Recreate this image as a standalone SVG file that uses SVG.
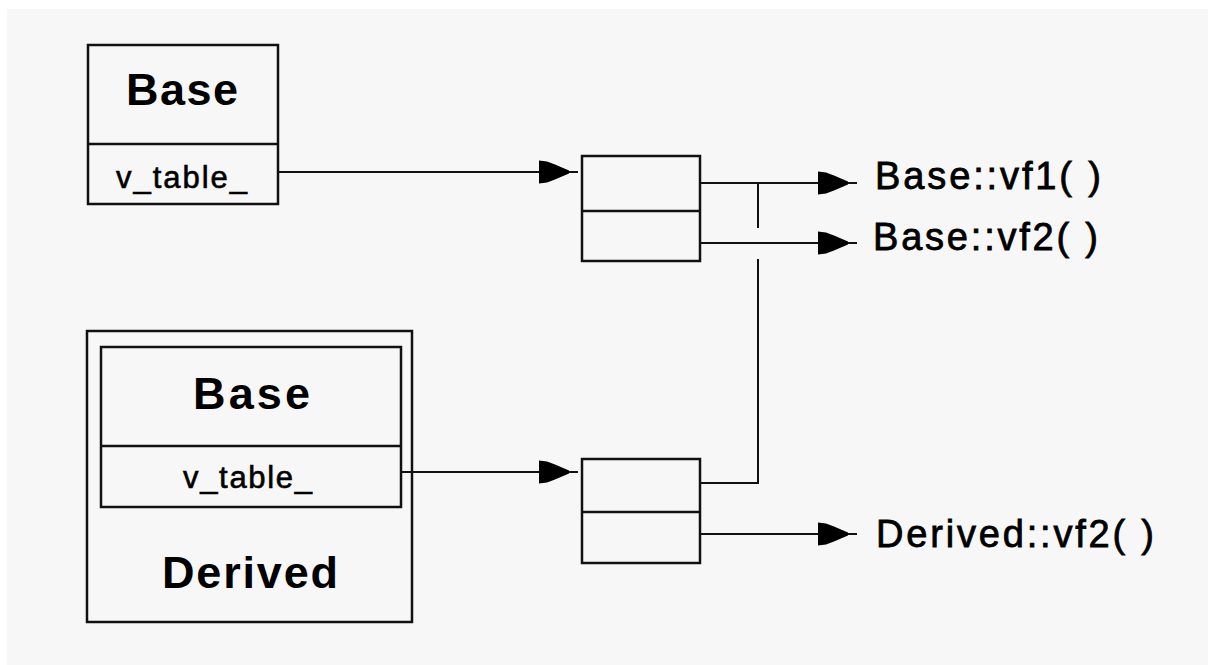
<svg xmlns="http://www.w3.org/2000/svg" width="1208" height="665" viewBox="0 0 1208 665">
  <style>
    .box { fill: none; stroke: #111; stroke-width: 2.5; }
    .wire { fill: none; stroke: #111; stroke-width: 2; }
    .title { font-family: "Liberation Sans", Arial, sans-serif; font-weight: bold; font-size: 45px; fill: #000; }
    .field { font-family: "Liberation Sans", Arial, sans-serif; font-size: 31px; fill: #000; stroke: #000; stroke-width: 0.6; }
    .fn { font-family: "Liberation Sans", Arial, sans-serif; font-size: 38px; fill: #000; stroke: #000; stroke-width: 0.8; }
  </style>
  <defs>
    <marker id="arrow" markerUnits="userSpaceOnUse" orient="auto" refX="0" refY="0" markerWidth="40" markerHeight="24" overflow="visible">
      <polygon points="-39,-11.5 -31,-10.5 -23,-7.5 -9,-1.5 -9,1.5 -23,7.5 -31,10.5 -39,11.5" fill="#000"/>
    </marker>
  </defs>

  <!-- page -->
  <rect x="0" y="0" width="1208" height="665" fill="#ffffff"/>
  <rect x="7" y="9" width="1201" height="656" fill="#f7f7f7"/>

  <!-- plain Base object -->
  <g id="base-object">
    <rect class="box" x="88" y="45" width="190" height="159"/>
    <line class="box" x1="88" y1="144" x2="278" y2="144"/>
    <text class="title" x="126" y="105" textLength="112" lengthAdjust="spacing">Base</text>
    <text class="field" x="116" y="188" textLength="131" lengthAdjust="spacing">v_table_</text>
  </g>

  <!-- Derived object with embedded Base part -->
  <g id="derived-object">
    <rect class="box" x="87" y="331" width="325" height="291"/>
    <rect class="box" x="101" y="347" width="300" height="160"/>
    <line class="box" x1="101" y1="446" x2="401" y2="446"/>
    <text class="title" x="193" y="409" textLength="117" lengthAdjust="spacing">Base</text>
    <text class="field" x="183" y="488" textLength="129" lengthAdjust="spacing">v_table_</text>
    <text class="title" x="162" y="588" textLength="176" lengthAdjust="spacing">Derived</text>
  </g>

  <!-- Base vtable -->
  <g id="base-vtable">
    <rect class="box" x="582" y="156" width="118" height="105"/>
    <line class="box" x1="582" y1="211" x2="700" y2="211"/>
  </g>

  <!-- Derived vtable -->
  <g id="derived-vtable">
    <rect class="box" x="582" y="459" width="118" height="104"/>
    <line class="box" x1="582" y1="512" x2="700" y2="512"/>
  </g>

  <!-- function targets -->
  <g id="fn-base-vf1">
    <text class="fn" x="875" y="189" textLength="226" lengthAdjust="spacing">Base::vf1( )</text>
  </g>
  <g id="fn-base-vf2">
    <text class="fn" x="873" y="250" textLength="225" lengthAdjust="spacing">Base::vf2( )</text>
  </g>
  <g id="fn-derived-vf2">
    <text class="fn" x="876" y="547" textLength="278" lengthAdjust="spacing">Derived::vf2( )</text>
  </g>

  <!-- pointers -->
  <g id="connectors">
    <path class="wire" d="M278,172 H578" marker-end="url(#arrow)"/>
    <path class="wire" d="M401,472 H578" marker-end="url(#arrow)"/>
    <path class="wire" d="M700,183 H857" marker-end="url(#arrow)"/>
    <path class="wire" d="M700,243 H857" marker-end="url(#arrow)"/>
    <path class="wire" d="M700,534 H857" marker-end="url(#arrow)"/>
    <!-- Derived slot 1 reuses Base::vf1, hopping over the vf2 line -->
    <path class="wire" d="M700,483 H758 V259"/>
    <path class="wire" d="M758,228 V183"/>
  </g>
</svg>
